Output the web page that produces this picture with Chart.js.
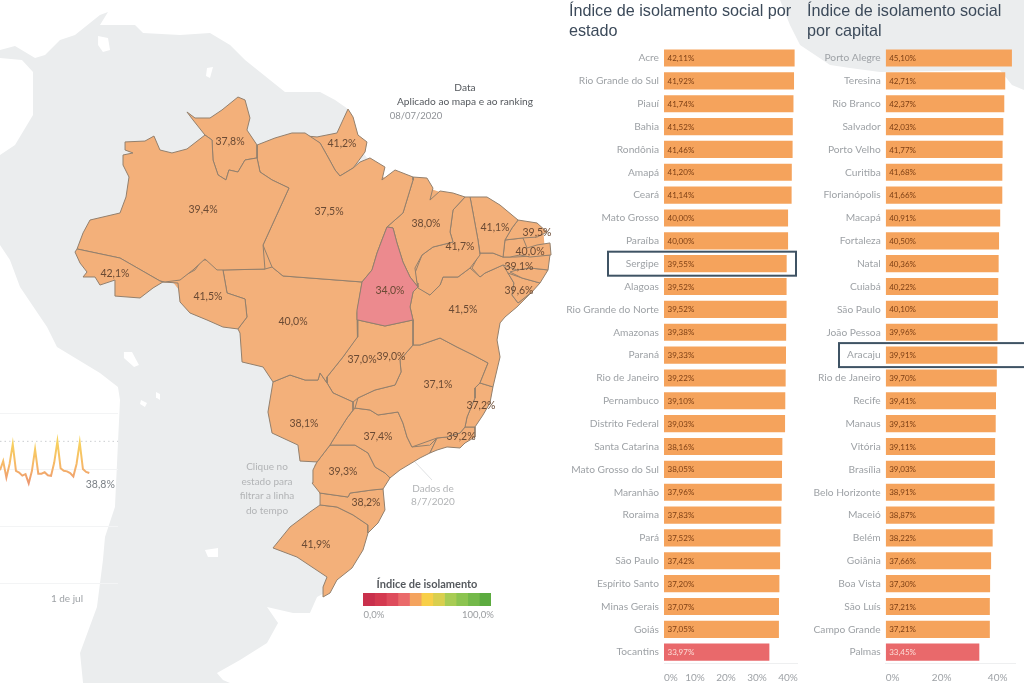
<!DOCTYPE html>
<html lang="pt-BR">
<head>
<meta charset="utf-8">
<title>Índice de isolamento social</title>
<script src="https://cdn.jsdelivr.net/npm/chart.js@4/dist/chart.umd.min.js"></script>
<style>
  html, body { margin: 0; padding: 0; background: #fff; }
  body { width: 1024px; height: 683px; position: relative; overflow: hidden; font-family: Lato, sans-serif; }
  canvas { position: absolute; }
  .title { position: absolute; font: 16.2px/20px "Liberation Sans", Arial, sans-serif; color: #3c4a5a; white-space: nowrap; }
  .note { position: absolute; font-size: 10px; line-height: 14.5px; color: #b2b4b6; text-align: center; white-space: nowrap; transform: translateX(-50%); }
  .dark { color: #55595e; font-size: 10.2px; }
</style>
</head>
<body>
<canvas id="mapChart" width="1024" height="683" style="left:0px;top:0px"></canvas>
<canvas id="lineChart" width="118" height="205" style="left:0px;top:405px"></canvas>
<canvas id="legendChart" width="128" height="13" style="left:363px;top:593px"></canvas>
<canvas id="stateChart" width="238" height="643" style="left:560px;top:40px"></canvas>
<canvas id="capitalChart" width="224" height="643" style="left:800px;top:40px"></canvas>

<div class="title" style="left:569px;top:0">Índice de isolamento social por<br>estado</div>
<div class="title" style="left:807px;top:0">Índice de isolamento social<br>por capital</div>

<div class="note dark" style="left:465px;top:80px">Data</div>
<div class="note dark" style="left:465px;top:94px">Aplicado ao mapa e ao ranking</div>
<div class="note" style="left:416px;top:109px;color:#8f9297;font-size:9.5px">08/07/2020</div>
<div class="note" style="left:267px;top:459px">Clique no<br>estado para<br>filtrar a linha<br>do tempo</div>
<div class="note" style="left:433px;top:482px;line-height:13px">Dados de<br>8/7/2020</div>
<div class="note" style="left:427px;top:577px;color:#55595e;font-size:11px;font-weight:700">Índice de isolamento</div>
<div class="note" style="left:374px;top:608px;color:#9a9da0;font-size:9.5px">0,0%</div>
<div class="note" style="left:478px;top:608px;color:#9a9da0;font-size:9.5px">100,0%</div>

<script>
// Ranking por estado
const stateNames = ["Acre", "Rio Grande do Sul", "Piauí", "Bahia", "Rondônia", "Amapá", "Ceará", "Mato Grosso", "Paraíba",
  "Sergipe", "Alagoas", "Rio Grande do Norte", "Amazonas", "Paraná", "Rio de Janeiro", "Pernambuco", "Distrito Federal",
  "Santa Catarina", "Mato Grosso do Sul", "Maranhão", "Roraima", "Pará", "São Paulo", "Espírito Santo", "Minas Gerais",
  "Goiás", "Tocantins"];
const stateValues = [42.11, 41.92, 41.74, 41.52, 41.46, 41.2, 41.14, 40, 40, 39.55, 39.52, 39.52, 39.38, 39.33, 39.22,
  39.1, 39.03, 38.16, 38.05, 37.96, 37.83, 37.52, 37.42, 37.2, 37.07, 37.05, 33.97];
const stateTicks = [0, 10, 20, 30, 40];

// Ranking por capital
const capitalNames = ["Porto Alegre", "Teresina", "Rio Branco", "Salvador", "Porto Velho", "Curitiba", "Florianópolis",
  "Macapá", "Fortaleza", "Natal", "Cuiabá", "São Paulo", "João Pessoa", "Aracaju", "Rio de Janeiro", "Recife", "Manaus",
  "Vitória", "Brasília", "Belo Horizonte", "Maceió", "Belém", "Goiânia", "Boa Vista", "São Luís", "Campo Grande", "Palmas"];
const capitalValues = [45.1, 42.71, 42.37, 42.03, 41.77, 41.68, 41.66, 40.91, 40.5, 40.36, 40.22, 40.1, 39.96, 39.91, 39.7,
  39.41, 39.31, 39.11, 39.03, 38.91, 38.87, 38.22, 37.66, 37.3, 37.21, 37.21, 33.45];
const capitalTicks = [0, 20, 40];

// Linha do tempo
const dayLabels = ["10 jun", "11 jun", "12 jun", "13 jun", "14 jun", "15 jun", "16 jun", "17 jun", "18 jun", "19 jun",
  "20 jun", "21 jun", "22 jun", "23 jun", "24 jun", "25 jun", "26 jun", "27 jun", "28 jun", "29 jun", "30 jun", "1 de jul",
  "2 jul", "3 jul", "4 jul", "5 jul", "6 jul", "7 jul", "8 jul", "9 jul", "10 jul", "11 jul", "12 jul", "13 jul", "14 jul",
  "15 jul", "16 jul", "17 jul"];
const dayValues = [39.8, 43, 37.2, 42, 49, 39.6, 39, 37.9, 38.4, 35.2, 39.5, 47.2, 38.6, 38.6, 39.1, 38, 37.8, 42.5, 50,
  40.5, 39.6, 39.4, 38.8, 37.6, 42, 49.6, 40.2, 39.2, 38.8];
const referenceValues = dayLabels.map(() => 50);

// Rótulos do mapa (lon, lat)
const mapLabels = ["37,8%", "41,2%", "39,4%", "37,5%", "38,0%", "41,1%", "39,5%", "40,0%", "41,7%", "39,1%", "42,1%", "41,5%",
  "40,0%", "34,0%", "39,6%", "41,5%", "37,0%", "39,0%", "37,1%", "37,2%", "38,1%", "37,4%", "39,2%", "39,3%", "38,2%", "41,9%"];
const labelLon = [-61.33, -52, -63.58, -53.08, -45, -39.25, -35.75, -36.33, -42.17, -37.25, -70.92, -63.17, -56.08, -48, -37.25,
  -41.92, -50.33, -47.92, -44, -40.42, -55.17, -49, -42.08, -51.92, -50, -54.17];
const labelLat = [1.76, 1.6, -3.56, -3.71, -4.65, -4.96, -5.35, -6.84, -6.45, -8.01, -8.56, -10.35, -12.31, -9.88, -9.88,
  -11.37, -15.28, -15.04, -17.23, -18.87, -20.28, -21.29, -21.29, -24.03, -26.45, -29.73];

// Contornos aproximados (lon, lat)
const AC = [[-74.08,-6.6],[-70.5,-7.31],[-67.17,-9.1],[-66.92,-9.18],[-67.75,-9.65],[-68.83,-10.43],[-70.92,-10.28],[-70.92,-9.03],[-72.17,-9.42],[-72.58,-8.79],[-73.58,-8.79],[-73.25,-8.4],[-73.83,-7.7],[-74.25,-6.84]];
const AM = [[-70.08,1.76],[-68.42,1.83],[-67.67,2.22],[-67.17,1.13],[-66.17,0.9],[-64.92,1.21],[-63.42,2.3],[-62.83,1.91],[-62.75,0.35],[-62.33,-0.82],[-61.67,-1.21],[-61.42,-0.43],[-60.67,-0.59],[-60.08,0.35],[-59.08,0.51],[-58.83,-0.59],[-57.83,-1.21],[-56.42,-1.84],[-58.58,-6.29],[-58.42,-8.17],[-61.75,-8.24],[-62.42,-8.24],[-63.42,-7.38],[-64.42,-8.24],[-65.5,-9.03],[-66.75,-9.18],[-67.17,-9.1],[-70.5,-7.31],[-74.08,-6.6],[-73.58,-5.35],[-73,-4.34],[-70.5,-3.79],[-70,-2.54],[-69.75,-0.98],[-70.25,-0.04],[-70.25,0.74],[-69.42,0.9],[-70.08,1.13]];
const RR = [[-64.92,4.1],[-64.25,3.63],[-63,3.63],[-62,4.26],[-60.67,5.27],[-60.08,5.04],[-59.67,3.63],[-59.92,2.69],[-59.08,1.52],[-59.08,0.51],[-60.08,0.35],[-60.67,-0.59],[-61.42,-0.43],[-61.67,-1.21],[-62.33,-0.82],[-62.75,0.35],[-62.83,1.91],[-63.42,2.3],[-64.08,3.08],[-64.42,3.48]];
const PA = [[-59.08,1.52],[-57.58,2.07],[-56.17,2.46],[-55.08,2.46],[-53.83,1.68],[-53.17,0.58],[-52.58,-0.43],[-52.17,-0.9],[-51.08,-0.28],[-50.5,0.19],[-49.67,0.51],[-48.42,-0.2],[-48.67,-1.21],[-47.58,-0.43],[-46.08,-0.98],[-46.08,-1.21],[-46.92,-3.79],[-48.25,-4.88],[-48.67,-5.9],[-49.08,-6.92],[-49.5,-8.24],[-50.33,-9.18],[-56.92,-8.71],[-57.83,-8.01],[-58.42,-6.68],[-58.58,-6.29],[-56.42,-1.84],[-57.83,-1.21],[-58.83,-0.59],[-59.08,0.51]];
const AP = [[-51.5,4.33],[-51.08,3.71],[-50.67,2.3],[-49.92,1.76],[-50.08,0.98],[-50.75,0.12],[-51.08,-0.28],[-52.17,-0.9],[-52.58,-0.43],[-53.17,0.58],[-53.83,1.68],[-54.92,2.22],[-54.08,2.15],[-52.42,2.46],[-51.92,3.48]];
const RO = [[-66.92,-9.18],[-65.5,-8.87],[-64.25,-8.24],[-63.67,-7.46],[-63,-7.46],[-61.92,-8.24],[-61.58,-10.04],[-60.08,-10.51],[-59.92,-11.92],[-60.67,-12.85],[-61.92,-12.7],[-63.25,-12.15],[-64.67,-11.6],[-65.5,-10.74],[-65.67,-9.26]];
const MT = [[-61.92,-8.24],[-58.42,-8.17],[-57.83,-8.01],[-56.92,-8.71],[-50.33,-9.18],[-50.75,-11.6],[-50.67,-12.15],[-50.75,-13.48],[-51.92,-15.04],[-53.25,-16.6],[-53.25,-17.07],[-53.83,-16.29],[-54,-16.84],[-55.08,-16.84],[-56.33,-16.45],[-57.75,-16.99],[-58.58,-15.82],[-60.33,-15.43],[-60.5,-13.17],[-60.67,-12.85],[-59.92,-11.92],[-60.08,-10.51],[-61.58,-10.04]];
const MS = [[-57.75,-16.99],[-56.33,-16.45],[-55.08,-16.84],[-54,-16.84],[-53.83,-16.29],[-53.25,-17.07],[-52.75,-17.85],[-51.08,-18.56],[-51.08,-19.18],[-51.58,-19.81],[-52.75,-21.53],[-53,-21.92],[-54.08,-23.24],[-55.5,-23.17],[-55.67,-21.92],[-57.83,-20.98],[-58.17,-19.34]];
const GO = [[-50.67,-12.15],[-48.42,-12.62],[-46.08,-12.15],[-46.08,-14.1],[-47.17,-15.28],[-47.08,-16.21],[-47.58,-17.23],[-49.25,-17.62],[-50.67,-18.24],[-51.08,-18.56],[-52.75,-17.85],[-53.25,-17.07],[-53.25,-16.6],[-51.92,-15.04],[-50.75,-13.48]];
const TO = [[-48.25,-4.88],[-47.75,-4.96],[-47.42,-6.13],[-46.92,-7.62],[-46.33,-8.79],[-45.67,-9.57],[-46.08,-9.96],[-46.33,-11.13],[-46.08,-12.15],[-48.42,-12.62],[-50.67,-12.15],[-50.75,-11.37],[-50.33,-9.18],[-49.5,-8.24],[-49.08,-6.92],[-48.67,-5.9]];
const MA = [[-46.08,-0.98],[-44.92,-1.06],[-44.42,-1.84],[-44.67,-2.78],[-43.83,-2.07],[-42.75,-2.23],[-41.75,-2.54],[-42.75,-3.56],[-43,-5.28],[-42.75,-6.06],[-44.42,-6.45],[-45.33,-7.07],[-45.92,-8.09],[-45.75,-9.26],[-45.67,-9.57],[-46.33,-8.79],[-46.92,-7.62],[-47.42,-6.13],[-47.75,-4.96],[-48.25,-4.88],[-46.92,-3.79],[-46.08,-1.21]];
const PI = [[-41.75,-2.54],[-41.33,-2.54],[-41.08,-3.79],[-40.67,-5.9],[-40.5,-7.07],[-41.33,-8.09],[-42.33,-8.79],[-43.58,-8.79],[-43.83,-9.42],[-44.67,-10.2],[-45.67,-9.65],[-45.92,-8.48],[-45.33,-7.07],[-44.42,-6.45],[-42.75,-6.06],[-43,-5.28],[-42.75,-3.56]];
const CE = [[-41.33,-2.54],[-39.92,-2.54],[-38.83,-3.17],[-37.33,-4.34],[-37.83,-4.96],[-38.42,-5.9],[-38.58,-7.23],[-39.42,-6.92],[-40.5,-6.92],[-40.67,-5.9],[-41.08,-3.79]];
const RN = [[-37.33,-4.34],[-35.75,-4.57],[-34.92,-5.28],[-35.75,-5.67],[-36.92,-5.74],[-38.42,-5.9],[-37.83,-4.96]];
const PB = [[-38.42,-5.9],[-36.92,-5.74],[-36.58,-6.53],[-35.75,-6.29],[-34.67,-6.13],[-34.58,-7.07],[-36.33,-7.23],[-37.17,-7.07],[-38,-7.23],[-38.58,-7.23]];
const PE = [[-40.5,-6.92],[-39.42,-6.92],[-38.58,-7.23],[-37.58,-7.23],[-34.67,-7.07],[-34.83,-8.24],[-36.33,-8.09],[-37.42,-8.24],[-38.58,-7.85],[-40.08,-8.48],[-40.5,-8.79],[-41.17,-8.09]];
const AL = [[-38,-8.4],[-37.42,-8.24],[-36.33,-8.09],[-34.83,-8.24],[-35.5,-9.26],[-37,-8.87]];
const SE = [[-38.17,-8.48],[-37,-8.87],[-35.5,-9.26],[-36.17,-9.96],[-37.33,-10.82],[-37.83,-10.2],[-37.67,-9.26]];
const BA = [[-45.67,-9.57],[-44.67,-10.2],[-43.83,-9.42],[-43.58,-8.79],[-42.33,-8.79],[-41.33,-8.09],[-40.5,-8.79],[-40.08,-8.48],[-38.58,-7.85],[-38.17,-8.48],[-37.67,-9.26],[-37.83,-10.2],[-37.33,-10.82],[-36.17,-9.96],[-37.42,-11.13],[-38.42,-11.92],[-38.83,-12.38],[-39.08,-13.71],[-38.83,-15.04],[-39.42,-17.38],[-40.5,-17.07],[-39.83,-15.51],[-41.08,-14.88],[-42.42,-14.26],[-43.83,-13.56],[-45.5,-14.1],[-46.08,-14.1],[-46.17,-12.93],[-46.08,-12.15],[-46.33,-11.13],[-46.08,-9.96]];
const MG = [[-46.08,-14.1],[-45.5,-14.1],[-43.83,-13.56],[-42.42,-14.26],[-41.08,-14.88],[-39.83,-15.51],[-40.5,-17.07],[-40.92,-17.46],[-40.92,-18.24],[-41.58,-19.73],[-41.75,-20.51],[-42.17,-20.98],[-43.25,-21.29],[-44.08,-21.37],[-46.17,-22.07],[-46.58,-21.29],[-46.92,-20.2],[-47.33,-19.34],[-49,-19.57],[-49.67,-19.18],[-50.92,-19.03],[-50.67,-18.24],[-49.25,-17.62],[-47.58,-17.23],[-47.08,-16.21],[-47.17,-15.28]];
const ES = [[-40.5,-17.07],[-39.42,-17.38],[-39.67,-18.63],[-40.25,-19.57],[-40.92,-20.51],[-41.75,-20.51],[-41.58,-19.73],[-40.92,-18.24],[-40.92,-17.46]];
const RJ = [[-41.75,-20.51],[-40.92,-20.51],[-40.92,-21.29],[-41.75,-21.76],[-42.17,-22.15],[-43.25,-22.07],[-44.08,-22.31],[-44.67,-22.54],[-44.08,-21.37],[-43.25,-21.29],[-42.17,-20.98]];
const SP = [[-50.92,-19.03],[-49.67,-19.18],[-49,-19.57],[-47.33,-19.34],[-46.92,-20.2],[-46.58,-21.29],[-46.17,-22.07],[-44.67,-21.92],[-44.08,-21.37],[-44.67,-22.54],[-45.5,-22.93],[-47.17,-23.87],[-48,-24.49],[-48.42,-24.1],[-49.25,-23.63],[-49.83,-22.54],[-50.92,-21.92],[-53,-21.92],[-52.75,-21.53],[-51.58,-19.81]];
const PR = [[-53,-21.92],[-50.92,-21.92],[-49.83,-22.54],[-49.25,-23.63],[-48.42,-24.1],[-48,-24.49],[-48.58,-25.35],[-49.5,-25.43],[-51.33,-25.67],[-51.5,-25.98],[-53.83,-25.67],[-54.5,-24.88],[-54.42,-23.87],[-54.08,-23.24]];
const SC = [[-53.83,-25.67],[-51.5,-25.98],[-51.33,-25.67],[-49.5,-25.43],[-48.58,-25.35],[-48.42,-26.99],[-49,-28.01],[-49.83,-28.79],[-49.83,-28.17],[-51.08,-27.38],[-52.42,-26.76],[-53.83,-26.6]];
const RS = [[-53.83,-26.6],[-52.42,-26.76],[-51.08,-27.38],[-49.83,-28.17],[-49.83,-28.79],[-50.25,-30.12],[-51.17,-31.53],[-52.42,-32.46],[-53,-33.48],[-53.58,-33.79],[-53.58,-33.01],[-53.25,-32.23],[-55.75,-30.67],[-57.75,-29.96],[-56.33,-28.32],[-54.67,-27.15]];
const brazilStates = [AC, AM, RR, PA, AP, RO, MT, MS, GO, MA, PI, CE, RN, PB, PE, AL, SE, BA, MG, ES, RJ, SP, PR, SC, RS];
// Miolo do país, fica por baixo dos estados para não sobrar fresta entre eles
const brazilCore = [[-70,-5],[-60,-0.5],[-50.8,-0.6],[-46.2,-1.4],[-41.8,-2.8],[-37.5,-4.6],[-35.2,-5.4],[-35,-8],[-37.8,-10.6],[-39.5,-12.5],[-39.5,-13.8],[-39.7,-17.5],[-40.5,-19.6],[-42,-21],[-46,-22.3],[-48.5,-25],[-49,-28],[-53,-27],[-53.9,-25.7],[-54.3,-23.5],[-53,-22],[-58,-19.5],[-57.6,-17],[-58.5,-15.6],[-59.5,-15],[-60,-13.2],[-65,-10.5],[-66,-9.3],[-70,-7.5]];

const landSouthAmerica = [[-80.5,8.94],[-79.25,9.26],[-77.58,8.32],[-76.75,8.55],[-75.5,9.72],[-74.25,10.12],[-72.17,11.68],[-71.5,11.91],[-72.17,10.9],[-69.25,10.9],[-68.58,10.27],[-65.5,10.12],[-63,10.27],[-61.33,9.33],[-60.08,8.16],[-58,6.6],[-56.75,5.66],[-53.83,5.66],[-52.58,5.04],[-51.5,4.33],[-51.08,1.91],[-47.17,-2.78],[-43,-10.59],[-45.5,-18.4],[-48.83,-24.65],[-50.5,-28.56],[-53,-33.24],[-54.08,-33.79],[-54.67,-35.04],[-56.08,-35.04],[-58.25,-34.57],[-57.33,-35.82],[-58.25,-37.38],[-60.5,-38.71],[-62.42,-39.73],[-61.92,-40.28],[-61.33,-40.51],[-73.58,-40.51],[-73.83,-38.17],[-72.42,-34.57],[-71.92,-30.9],[-71.75,-29.1],[-70.92,-26.76],[-70.5,-18.4],[-70.67,-17.38],[-72.17,-16.29],[-75.75,-14.26],[-76.58,-12.7],[-78.83,-9.57],[-79.67,-7.46],[-80.5,-6.29],[-80.5,0.74],[-79.25,1.52],[-77.75,3.87],[-77.75,7.23],[-78.67,8.16],[-80.5,8.32]];
const landAfrica = [[-15.5,12.85],[-14.67,10.9],[-13.83,9.33],[-12.58,8.55],[-11.33,7.77],[-9.67,7.54],[-7.17,7.23],[2.83,7.38],[3.83,6.2],[4.83,5.82],[4.83,12.85]];
const lakes = [
  [[-72.33,10.04],[-71.5,9.88],[-71.33,8.94],[-71.92,8.79],[-72.33,9.33]],
  [[-63.25,7.54],[-62.75,7.62],[-63,6.76],[-63.33,6.91]],
  [[-70.17,-14.65],[-69.5,-14.65],[-68.92,-15.67],[-69.33,-15.82],[-70.17,-15.12]],
  [[-68.75,-18.4],[-68.25,-18.63],[-68.42,-18.95],[-68.83,-18.71]],
  [[-67.5,-17.78],[-67.17,-17.93],[-67.17,-18.4],[-67.42,-18.24]],
  [[-63.42,-30.12],[-62.33,-29.96],[-62.33,-30.67],[-63.17,-30.67]],
];
const leaderLine = [[-45.92,-23.24],[-44.5,-24.65]];

// Legenda de cores
const legendStops = [9.09, 9.09, 9.09, 9.09, 9.09, 9.09, 9.09, 9.09, 9.09, 9.09, 9.1];
const legendColors = ["#c9304c", "#d43a50", "#de4c5c", "#ea6a6a", "#f4a35e", "#f8cf48", "#d9cf4e", "#a8cc54", "#8cc450", "#74b94a", "#5cab3f"];

const ORANGE = "#f5a35c";
const RED = "#e9696b";
const MAP_ORANGE = "#f3b07a";
const MAP_PINK = "#ec8a8e";
const MAP_EDGE = "#93806d";
const LAND = "#ebedee";
const AXIS_TEXT = "#9ea2a6";

Chart.defaults.font.family = "Lato, sans-serif";
Chart.defaults.animation = false;

function pct(v) {
  return v.toFixed(2).replace(".", ",") + "%";
}

function shape(points, fillColor, edge, order) {
  return {
    data: points.concat([points[0]]).map((p) => ({ x: p[0], y: p[1] })),
    showLine: true,
    fill: "shape",
    tension: 0,
    pointRadius: 0,
    backgroundColor: fillColor,
    borderColor: edge || "transparent",
    borderWidth: edge ? 1 : 0,
    order: order,
  };
}

/* ----------------- Mapa ----------------- */
const mapLabelsPlugin = {
  id: "mapLabels",
  afterDatasetsDraw(chart) {
    const { ctx, scales } = chart;
    ctx.save();
    ctx.font = "10.5px Lato, sans-serif";
    ctx.fillStyle = "#6a4a34";
    ctx.textAlign = "center";
    ctx.textBaseline = "middle";
    mapLabels.forEach((t, i) => {
      ctx.fillText(t, scales.x.getPixelForValue(labelLon[i]), scales.y.getPixelForValue(labelLat[i]));
    });
    ctx.restore();
  },
};

new Chart(document.getElementById("mapChart"), {
  type: "scatter",
  data: {
    datasets: [
      ...brazilStates.map((s) => shape(s, MAP_ORANGE, MAP_EDGE, 2)),
      shape(TO, MAP_PINK, MAP_EDGE, 1),
      shape(brazilCore, MAP_ORANGE, null, 2.5),
      ...lakes.map((s) => shape(s, "#ffffff", null, 3)),
      shape(landSouthAmerica, LAND, null, 4),
      shape(landAfrica, LAND, null, 4),
      {
        data: leaderLine.map((p) => ({ x: p[0], y: p[1] })),
        showLine: true,
        pointRadius: 0,
        borderColor: "#dfe1e3",
        borderWidth: 1,
        order: 5,
      },
    ],
  },
  options: {
    responsive: false,
    plugins: { legend: { display: false }, tooltip: { enabled: false } },
    scales: {
      x: { type: "linear", display: false, min: -80.5, max: 4.833 },
      y: { type: "linear", display: false, min: -40.51, max: 12.85 },
    },
  },
  plugins: [mapLabelsPlugin],
});

/* ----------------- Linha do tempo ----------------- */
const endLabelPlugin = {
  id: "endLabel",
  afterDatasetsDraw(chart) {
    const pt = chart.getDatasetMeta(0).data[dayValues.length - 1];
    const ctx = chart.ctx;
    ctx.save();
    ctx.font = "10.5px Lato, sans-serif";
    ctx.fillStyle = "#7b8086";
    ctx.textAlign = "center";
    ctx.textBaseline = "middle";
    ctx.fillText(
      dayValues[dayValues.length - 1].toFixed(1).replace(".", ",") + "%",
      pt.x + 11,
      pt.y + 12,
    );
    ctx.restore();
  },
};

new Chart(document.getElementById("lineChart"), {
  type: "line",
  data: {
    labels: dayLabels,
    datasets: [
      {
        data: dayValues,
        borderWidth: 2,
        pointRadius: 0,
        tension: 0,
        borderColor(c) {
          const { ctx, chartArea, scales } = c.chart;
          if (!chartArea) return "#f0a060";
          const g = ctx.createLinearGradient(0, scales.y.getPixelForValue(50), 0, scales.y.getPixelForValue(35));
          g.addColorStop(0, "#f7d25e");
          g.addColorStop(0.55, "#f6b968");
          g.addColorStop(1, "#ec9670");
          return g;
        },
      },
      {
        data: referenceValues,
        borderColor: "#c9cccf",
        borderWidth: 1,
        borderDash: [1.5, 3],
        pointRadius: 0,
      },
    ],
  },
  options: {
    responsive: false,
    layout: { padding: { top: 8 } },
    plugins: { legend: { display: false }, tooltip: { enabled: false } },
    scales: {
      x: {
        grid: { display: false, drawTicks: false },
        border: { display: false },
        afterFit: (s) => { s.height = 27; s.paddingLeft = 0; s.paddingRight = 0; },
        ticks: {
          autoSkip: false,
          maxRotation: 0,
          padding: 10,
          color: AXIS_TEXT,
          font: { size: 10 },
          callback(v) { return dayLabels[v] === "1 de jul" ? dayLabels[v] : ""; },
        },
      },
      y: {
        min: 0,
        max: 60,
        afterFit: (s) => { s.width = 0; s.paddingTop = 0; s.paddingBottom = 0; },
        border: { display: false },
        grid: { color: "#f3f4f5", drawTicks: false },
        ticks: { display: false, stepSize: 20 },
      },
    },
  },
  plugins: [endLabelPlugin],
});

/* ----------------- Legenda ----------------- */
new Chart(document.getElementById("legendChart"), {
  type: "bar",
  data: {
    labels: [""],
    datasets: legendStops.map((v, i) => ({
      data: [v],
      backgroundColor: legendColors[i],
      barPercentage: 1,
      categoryPercentage: 1,
    })),
  },
  options: {
    indexAxis: "y",
    responsive: false,
    plugins: { legend: { display: false }, tooltip: { enabled: false } },
    scales: {
      x: { stacked: true, display: false, min: 0, max: 100 },
      y: { stacked: true, display: false },
    },
  },
});

/* ----------------- Rankings ----------------- */
function barText(highlightName, boxLeft, boxRight) {
  return {
    id: "barText",
    afterDatasetsDraw(chart) {
      const { ctx, chartArea, scales } = chart;
      const bars = chart.getDatasetMeta(0).data;
      const values = chart.data.datasets[0].data;
      ctx.save();
      ctx.font = "8px Lato, sans-serif";
      ctx.textBaseline = "middle";
      bars.forEach((b, i) => {
        ctx.fillStyle = i === bars.length - 1 ? "#fbdcd6" : "#7d3f14";
        ctx.fillText(pct(values[i]), chartArea.left + 3.5, b.y + 0.5);
      });
      // caixa de destaque
      const y = scales.y.getPixelForValue(chart.data.labels.indexOf(highlightName));
      ctx.strokeStyle = "#3f5364";
      ctx.lineWidth = 2;
      ctx.strokeRect(chartArea.left - boxLeft, y - 12, boxRight, 24);
      ctx.restore();
    },
  };
}

function rankingChart(id, names, values, ticks, maxValue, axisWidth, rightPad, plugin) {
  return new Chart(document.getElementById(id), {
    type: "bar",
    data: {
      labels: names,
      datasets: [
        {
          data: values,
          backgroundColor: values.map((v, i) => (i === values.length - 1 ? RED : ORANGE)),
          barPercentage: 0.75,
          categoryPercentage: 1,
        },
      ],
    },
    options: {
      indexAxis: "y",
      responsive: false,
      layout: { padding: { top: 6.6, right: rightPad } },
      plugins: { legend: { display: false }, tooltip: { enabled: false } },
      scales: {
        x: {
          min: 0,
          max: maxValue,
          afterFit: (s) => { s.height = 19.4; s.paddingLeft = 0; s.paddingRight = 0; },
          afterBuildTicks: (s) => { s.ticks = ticks.concat([maxValue]).map((v) => ({ value: v })); },
          grid: { display: false, drawTicks: false },
          border: { color: "#eeeff0" },
          ticks: {
            align: "inner",
            autoSkip: false,
            maxRotation: 0,
            padding: 8,
            color: AXIS_TEXT,
            font: { size: 10 },
            callback: (v) => (v === maxValue ? "" : v + "%"),
          },
        },
        y: {
          afterFit: (s) => { s.width = axisWidth; s.paddingTop = 0; s.paddingBottom = 0; },
          grid: { display: false, drawTicks: false },
          border: { display: false },
          ticks: { padding: 5, color: AXIS_TEXT, autoSkip: false, font: { size: 10.2 } },
        },
      },
    },
    plugins: [plugin],
  });
}

rankingChart("stateChart", stateNames, stateValues, stateTicks, 43.2, 104, 0, barText("Sergipe", 56, 188));
rankingChart("capitalChart", capitalNames, capitalValues, capitalTicks, 46.2, 85.7, 9, barText("Aracaju", 46.7, 200));
</script>
</body>
</html>
